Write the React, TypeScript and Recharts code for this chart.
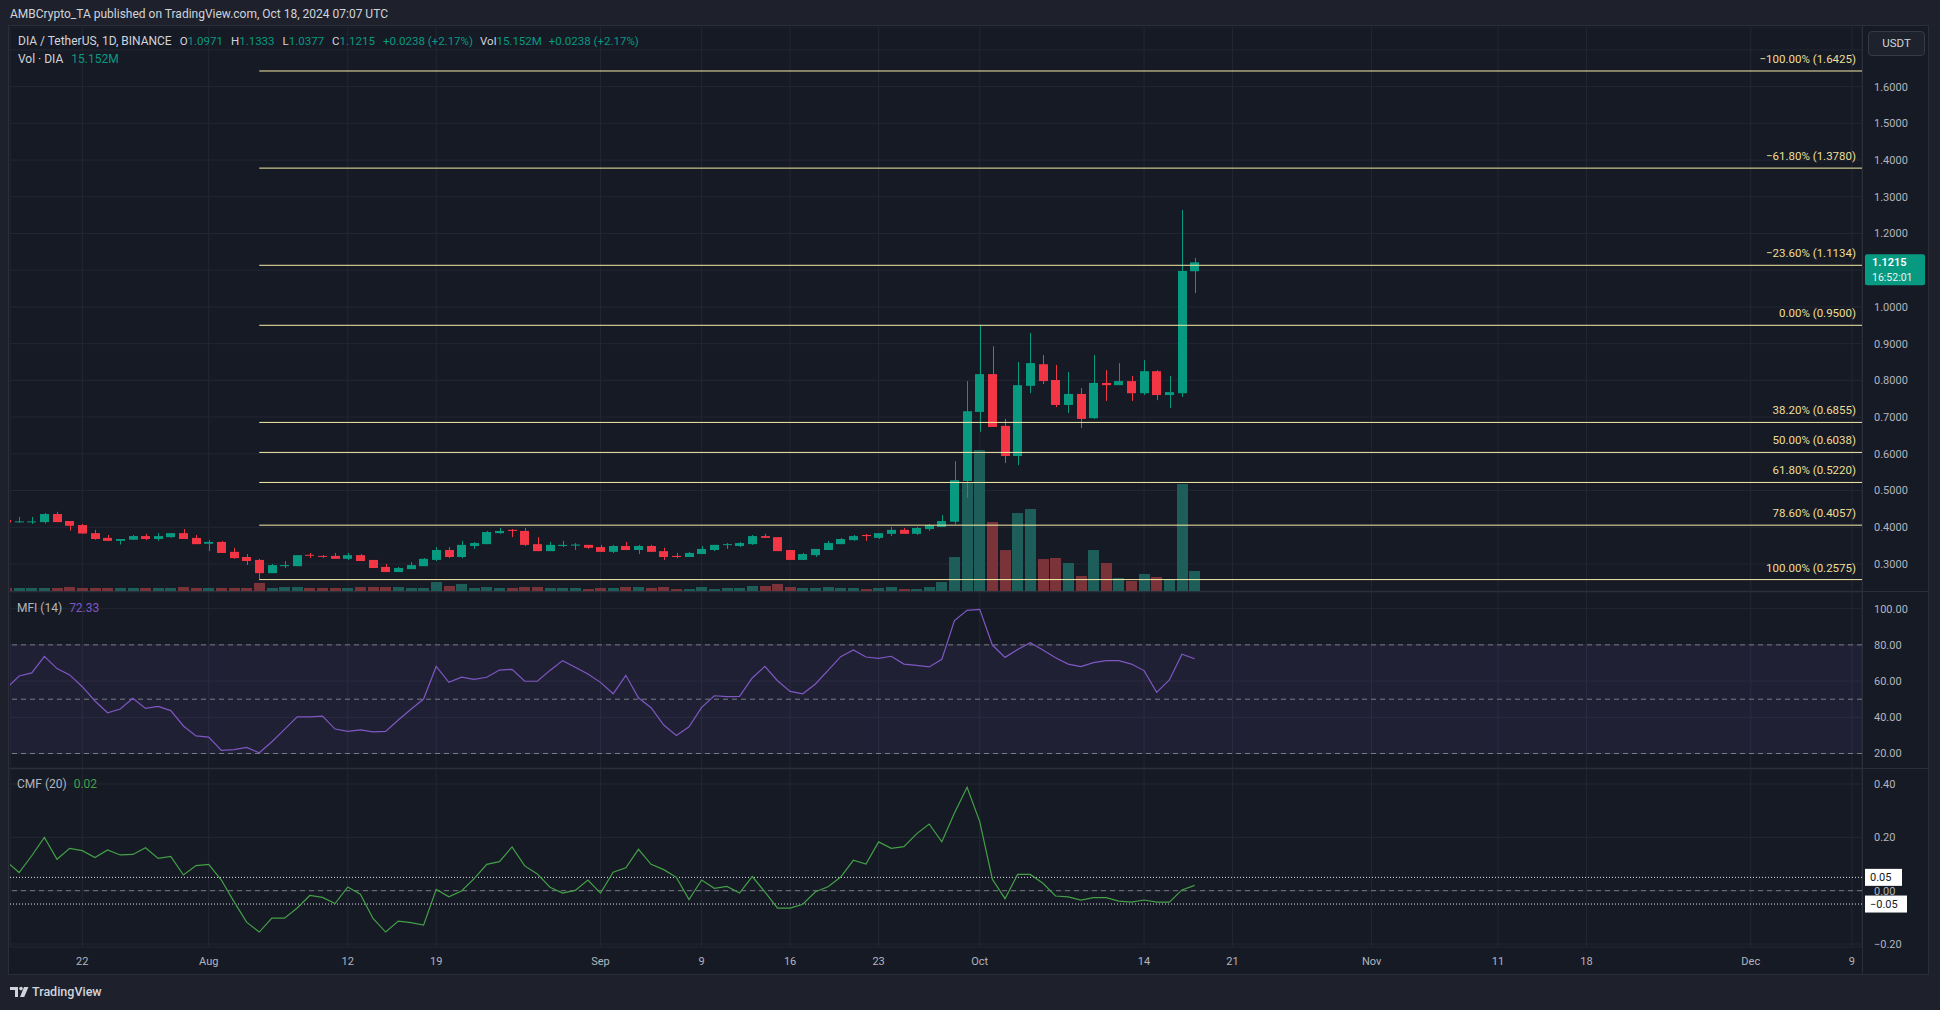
import React from "react";
import {
  Bar,
  CartesianGrid,
  ComposedChart,
  Line,
  ReferenceArea,
  ReferenceLine,
  XAxis,
  YAxis,
} from "recharts";

// day 0 = Jul 22 2024; first visible candle is Jul 16
const FIRST_DAY = -6;

const open = [
  0.42, 0.415, 0.415, 0.414, 0.436, 0.417, 0.406, 0.384, 0.371, 0.363, 0.366, 0.376, 0.368, 0.373, 0.384, 0.371,
  0.355, 0.36, 0.333, 0.319, 0.311, 0.275, 0.294, 0.294, 0.325, 0.322, 0.322, 0.314, 0.324, 0.311, 0.292, 0.278,
  0.286, 0.294, 0.311, 0.338, 0.319, 0.349, 0.354, 0.384, 0.393, 0.39, 0.354, 0.335, 0.349, 0.35, 0.352, 0.346,
  0.333, 0.349, 0.338, 0.349, 0.335, 0.322, 0.319, 0.327, 0.338, 0.352, 0.349, 0.354, 0.376, 0.373, 0.338, 0.311,
  0.324, 0.338, 0.354, 0.365, 0.379, 0.371, 0.382, 0.393, 0.382, 0.395, 0.401, 0.415, 0.526, 0.714, 0.817, 0.676,
  0.594, 0.785, 0.844, 0.801, 0.733, 0.763, 0.697, 0.793, 0.787, 0.798, 0.765, 0.825, 0.76, 0.765, 1.0971,
];
const high = [
  0.421, 0.428, 0.428, 0.439, 0.442, 0.417, 0.409, 0.393, 0.379, 0.368, 0.379, 0.382, 0.384, 0.384, 0.395, 0.379,
  0.365, 0.363, 0.344, 0.327, 0.314, 0.3, 0.308, 0.324, 0.33, 0.324, 0.33, 0.33, 0.327, 0.311, 0.3, 0.292,
  0.305, 0.316, 0.346, 0.346, 0.363, 0.36, 0.39, 0.398, 0.395, 0.398, 0.373, 0.36, 0.363, 0.357, 0.352, 0.352,
  0.352, 0.36, 0.352, 0.352, 0.344, 0.33, 0.333, 0.349, 0.352, 0.357, 0.36, 0.379, 0.382, 0.373, 0.338, 0.33,
  0.341, 0.363, 0.371, 0.379, 0.382, 0.384, 0.401, 0.398, 0.401, 0.409, 0.433, 0.58, 0.798, 0.95, 0.893, 0.695,
  0.85, 0.929, 0.869, 0.842, 0.823, 0.779, 0.869, 0.828, 0.847, 0.812, 0.855, 0.828, 0.812, 1.264, 1.1333,
];
const low = [
  0.411, 0.412, 0.409, 0.41, 0.414, 0.391, 0.383, 0.366, 0.363, 0.353, 0.366, 0.365, 0.363, 0.372, 0.368, 0.354,
  0.335, 0.33, 0.314, 0.297, 0.2575, 0.275, 0.289, 0.294, 0.316, 0.316, 0.314, 0.311, 0.308, 0.289, 0.278, 0.278,
  0.286, 0.294, 0.308, 0.316, 0.316, 0.341, 0.354, 0.382, 0.373, 0.349, 0.335, 0.335, 0.346, 0.338, 0.341, 0.333,
  0.33, 0.338, 0.327, 0.333, 0.311, 0.316, 0.319, 0.327, 0.335, 0.341, 0.346, 0.352, 0.371, 0.335, 0.311, 0.311,
  0.319, 0.338, 0.354, 0.363, 0.363, 0.368, 0.376, 0.382, 0.379, 0.39, 0.401, 0.408, 0.48, 0.66, 0.673, 0.575,
  0.569, 0.765, 0.79, 0.727, 0.711, 0.67, 0.695, 0.744, 0.787, 0.744, 0.76, 0.746, 0.725, 0.755, 1.0377,
];
const close = [
  0.413, 0.416, 0.416, 0.436, 0.414, 0.404, 0.383, 0.368, 0.363, 0.368, 0.376, 0.368, 0.376, 0.384, 0.368, 0.354,
  0.36, 0.33, 0.316, 0.308, 0.275, 0.297, 0.297, 0.324, 0.323, 0.32, 0.314, 0.324, 0.308, 0.289, 0.278, 0.289,
  0.297, 0.314, 0.338, 0.319, 0.352, 0.357, 0.387, 0.39, 0.39, 0.352, 0.335, 0.352, 0.352, 0.353, 0.344, 0.333,
  0.349, 0.338, 0.349, 0.333, 0.319, 0.319, 0.33, 0.341, 0.352, 0.354, 0.357, 0.376, 0.371, 0.335, 0.311, 0.327,
  0.341, 0.357, 0.368, 0.376, 0.376, 0.384, 0.393, 0.382, 0.398, 0.406, 0.417, 0.528, 0.716, 0.817, 0.673, 0.594,
  0.787, 0.847, 0.798, 0.733, 0.763, 0.695, 0.793, 0.787, 0.798, 0.765, 0.825, 0.76, 0.768, 1.098, 1.1215,
];
// volume, millions of DIA
const volume = [
  2.3, 2.3, 2.3, 2.3, 2.3, 3.0, 2.3, 2.3, 2.3, 2.3, 2.3, 2.3, 2.3, 2.3, 3.0, 2.3,
  2.3, 2.3, 2.3, 2.3, 6.1, 2.3, 3.0, 3.0, 2.3, 2.3, 2.3, 2.3, 3.0, 3.0, 3.0, 3.0,
  2.3, 2.3, 6.8, 3.8, 5.3, 2.3, 3.0, 2.3, 2.3, 3.0, 3.0, 2.3, 2.3, 2.3, 1.5, 2.3,
  2.3, 3.0, 3.0, 2.3, 3.0, 1.5, 1.5, 3.0, 1.5, 2.3, 2.3, 3.8, 3.8, 5.3, 3.0, 2.3,
  2.3, 3.0, 2.3, 2.3, 1.5, 2.3, 3.0, 1.5, 1.5, 3.0, 6.8, 25.7, 81.8, 106.7, 52.2, 31.0,
  59.0, 62.1, 24.2, 25.0, 21.2, 11.4, 31.0, 21.2, 9.8, 7.6, 12.9, 10.6, 9.1, 81.0, 15.152,
];
const mfi = [
  56, 62.8, 64.5, 73.7, 66.9, 63.4, 56.9, 49.0, 42.5, 44.6, 50.5, 44.9, 46.0, 43.7, 35.2, 29.7,
  29.1, 21.7, 22.1, 23.4, 20.4, 26.5, 33.3, 40.2, 40.2, 40.7, 33.5, 32.2, 33.0, 32.0, 32.2, 38.5,
  44.4, 50.1, 68.1, 59.3, 62.2, 61.0, 62.1, 66.1, 66.5, 59.9, 59.9, 65.9, 71.3, 67.6, 63.9, 59.3,
  53.0, 63.2, 50.8, 45.3, 35.7, 30.0, 34.8, 45.5, 51.9, 51.4, 51.6, 61.7, 68.1, 60.2, 54.3, 53.0,
  58.4, 65.9, 73.5, 77.2, 73.3, 72.6, 73.7, 69.4, 68.7, 67.8, 72.0, 93.4, 99.1, 99.6, 79.9, 73.1,
  77.5, 81.2, 77.2, 72.9, 69.4, 68.0, 70.2, 71.3, 71.3, 69.4, 65.8, 53.8, 60.6, 74.8, 72.33,
];
const cmf = [
  0.11, 0.068, 0.131, 0.2, 0.118, 0.159, 0.15, 0.124, 0.153, 0.134, 0.136, 0.161, 0.121, 0.129, 0.059, 0.094,
  0.099, 0.04, -0.041, -0.118, -0.155, -0.103, -0.103, -0.065, -0.018, -0.025, -0.048, 0.014, -0.013, -0.104, -0.155, -0.114,
  -0.12, -0.129, 0.005, -0.023, -0.001, 0.045, 0.099, 0.109, 0.164, 0.093, 0.063, 0.013, -0.009, 0.001, 0.04, -0.009,
  0.069, 0.086, 0.155, 0.099, 0.079, 0.05, -0.033, 0.04, 0.009, 0.016, -0.009, 0.053, -0.004, -0.065, -0.065, -0.051,
  -0.004, 0.015, 0.051, 0.114, 0.1, 0.183, 0.159, 0.165, 0.213, 0.25, 0.183, 0.291, 0.388, 0.259, 0.043, -0.03,
  0.061, 0.061, 0.028, -0.02, -0.023, -0.035, -0.026, -0.026, -0.039, -0.043, -0.035, -0.043, -0.043, 0.003, 0.02,
];

const timeTicks = [0, 10, 21, 28, 41, 49, 56, 63, 71, 84, 91, 102, 112, 119, 132, 140];
const timeLabels = ["22", "Aug", "12", "19", "Sep", "9", "16", "23", "Oct", "14", "21", "Nov", "11", "18", "Dec", "9"];

const priceTicks = [0.3, 0.4, 0.5, 0.6, 0.7, 0.8, 0.9, 1.0, 1.1, 1.2, 1.3, 1.4, 1.5, 1.6, 1.7];
const mfiTicks = [20, 40, 60, 80, 100];
const cmfTicks = [-0.2, 0, 0.2, 0.4];

const fibRatios = [-1, -0.618, -0.236, 0, 0.382, 0.5, 0.618, 0.786, 1];
const fibPrices = [1.6425, 1.378, 1.1134, 0.95, 0.6855, 0.6038, 0.522, 0.4057, 0.2575];
const FIB_START_DAY = 14;

const X_MIN = -5.72;
const X_MAX = 140.8;

const GREEN = "#089981";
const RED = "#f23645";
const VOL_UP = "#1d5e5a";
const VOL_DOWN = "#7a3338";
const GRID = "#232733";
const AXIS_TEXT = "#b2b5be";
const CHART_BG = "#161a25";
const OUTER_BG = "#1e212b";
const BORDER = "#2a2e39";
const FIB_LINE = "#f6eba6";
const FIB_TEXT = "#eddf98";
const MFI_COLOR = "#7e57c2";
const CMF_COLOR = "#43a047";
const FONT = "Roboto, 'Noto Sans', sans-serif";

const rows = open.map((o, i) => ({
  day: i + FIRST_DAY,
  open: o,
  high: high[i],
  low: low[i],
  close: close[i],
  range: [low[i], high[i]],
  vol: volume[i],
  mfi: mfi[i],
  cmf: cmf[i],
}));

const last = rows[rows.length - 1];
const minus = (s: string) => s.replace("-", "\u2212");

function Candle(props: any) {
  const { x, y, width, height, payload } = props;
  const top = Math.min(y, y + height);
  const bottom = Math.max(y, y + height);
  const span = payload.high - payload.low;
  const k = span > 0 ? (bottom - top) / span : 0;
  const yO = top + (payload.high - payload.open) * k;
  const yC = top + (payload.high - payload.close) * k;
  const color = payload.close >= payload.open ? GREEN : RED;
  const cx = Math.round(x + width / 2) + 0.5;
  return (
    <g>
      <line x1={cx} x2={cx} y1={top} y2={bottom} stroke={color} strokeWidth={1} />
      <rect x={Math.round(x)} y={Math.min(yO, yC)} width={width} height={Math.max(1, Math.abs(yO - yC))} fill={color} />
    </g>
  );
}

function VolumeBar(props: any) {
  const { x, y, width, height, payload } = props;
  const up = payload.close >= payload.open;
  const top = Math.min(y, y + height);
  return <rect x={Math.round(x)} y={top} width={width} height={Math.abs(height)} fill={up ? VOL_UP : VOL_DOWN} />;
}

function FibLabel(props: any) {
  const { viewBox, text } = props;
  if (!viewBox) return null;
  return (
    <text x={viewBox.x + viewBox.width - 6} y={viewBox.y - 8} textAnchor="end" fill={FIB_TEXT} fontSize={11.5}>
      {text}
    </text>
  );
}

function PriceTag(props: any) {
  const { viewBox } = props;
  if (!viewBox) return null;
  const x = viewBox.x + viewBox.width + 3;
  const y = viewBox.y - 8;
  return (
    <g>
      <rect x={x} y={y} width={60} height={31} rx={2} fill={GREEN} />
      <text x={x + 7} y={y + 12} fill="#ffffff" fontSize={11} fontWeight={600}>
        {last.close.toFixed(4)}
      </text>
      <text x={x + 7} y={y + 27} fill="#e8f5f2" fontSize={10.5}>
        16:52:01
      </text>
    </g>
  );
}

function BoxTag(props: any) {
  const { viewBox, text, w } = props;
  if (!viewBox) return null;
  const x = viewBox.x + viewBox.width + 3;
  const y = viewBox.y - 8.5;
  return (
    <g>
      <rect x={x} y={y} width={w} height={17} fill="#ffffff" />
      <text x={x + 5} y={y + 12.5} fill="#131722" fontSize={11}>
        {text}
      </text>
    </g>
  );
}

const timeLabel = (v: number) => {
  const i = timeTicks.indexOf(v);
  return i >= 0 ? timeLabels[i] : "";
};

// labels hidden by the USDT button and the last price tag
const priceLabel = (v: number) => (v > 1.65 || Math.abs(v - last.close) < 0.05 ? "" : v.toFixed(4));

const yTick = { fill: AXIS_TEXT, fontSize: 11 };

export default function App() {
  const chartProps = {
    width: 1940,
    data: rows,
    margin: { top: 0, right: 0, bottom: 0, left: 10 },
  };

  return (
    <div
      style={{
        position: "absolute",
        left: 0,
        top: 0,
        width: 1940,
        height: 1010,
        background: OUTER_BG,
        fontFamily: FONT,
        overflow: "hidden",
      }}
    >
      <div style={{ position: "absolute", left: 10, top: 7, fontSize: 12, color: "#d1d4dc" }}>
        AMBCrypto_TA published on TradingView.com, Oct 18, 2024 07:07 UTC
      </div>

      <div
        style={{
          position: "absolute",
          left: 9,
          top: 26,
          width: 1919,
          height: 948,
          background: CHART_BG,
          boxShadow: `0 0 0 1px ${BORDER}`,
        }}
      />

      {/* price pane */}
      <div style={{ position: "absolute", left: 0, top: 27 }}>
        <ComposedChart {...chartProps} height={564}>
          <CartesianGrid xAxisId="p" yAxisId="p" stroke={GRID} />
          <XAxis xAxisId="p" dataKey="day" type="number" domain={[X_MIN, X_MAX]} ticks={timeTicks} hide allowDataOverflow />
          <XAxis xAxisId="v" dataKey="day" type="number" domain={[X_MIN, X_MAX]} hide allowDataOverflow />
          <YAxis
            yAxisId="p"
            orientation="right"
            width={78}
            domain={[0.2264, 1.7623]}
            ticks={priceTicks}
            tickFormatter={priceLabel}
            axisLine={false}
            tickLine={false}
            tickMargin={6}
            tick={yTick}
            allowDataOverflow
          />
          <YAxis yAxisId="v" hide domain={[0, 427]} />
          <Bar xAxisId="v" yAxisId="v" dataKey="vol" barSize={11} shape={VolumeBar} isAnimationActive={false} />
          <Bar xAxisId="p" yAxisId="p" dataKey="range" barSize={9} shape={Candle} isAnimationActive={false} />
          {fibPrices.map((p, i) => (
            <ReferenceLine
              key={p}
              xAxisId="p"
              yAxisId="p"
              segment={[
                { x: FIB_START_DAY, y: p },
                { x: X_MAX, y: p },
              ]}
              stroke={FIB_LINE}
              strokeWidth={1}
              label={<FibLabel text={minus(`${(fibRatios[i] * 100).toFixed(2)}% (${p.toFixed(4)})`)} />}
            />
          ))}
          <ReferenceLine xAxisId="p" yAxisId="p" y={last.close} stroke="none" strokeOpacity={0} label={<PriceTag />} />
        </ComposedChart>
      </div>

      {/* MFI pane */}
      <div style={{ position: "absolute", left: 0, top: 592 }}>
        <ComposedChart {...chartProps} height={176}>
          <ReferenceArea y1={20} y2={80} fill={MFI_COLOR} fillOpacity={0.1} stroke="none" />
          <CartesianGrid stroke={GRID} />
          <XAxis dataKey="day" type="number" domain={[X_MIN, X_MAX]} ticks={timeTicks} hide allowDataOverflow />
          <YAxis
            orientation="right"
            width={78}
            domain={[12, 109.2]}
            ticks={mfiTicks}
            tickFormatter={(v: number) => v.toFixed(2)}
            axisLine={false}
            tickLine={false}
            tickMargin={6}
            tick={yTick}
            allowDataOverflow
          />
          {[80, 50, 20].map((v) => (
            <ReferenceLine key={v} y={v} stroke="#787b86" strokeDasharray="5 4" />
          ))}
          <Line dataKey="mfi" stroke={MFI_COLOR} strokeWidth={1.2} dot={false} isAnimationActive={false} />
        </ComposedChart>
      </div>

      {/* CMF pane + time axis */}
      <div style={{ position: "absolute", left: 0, top: 769 }}>
        <ComposedChart {...chartProps} height={205}>
          <CartesianGrid stroke={GRID} />
          <XAxis
            dataKey="day"
            type="number"
            domain={[X_MIN, X_MAX]}
            ticks={timeTicks}
            interval={0}
            tickFormatter={timeLabel}
            height={27}
            axisLine={false}
            tickLine={false}
            tickMargin={4}
            tick={{ fill: AXIS_TEXT, fontSize: 11 }}
            allowDataOverflow
          />
          <YAxis
            orientation="right"
            width={78}
            domain={[-0.2111, 0.4563]}
            ticks={cmfTicks}
            tickFormatter={(v: number) => minus(v.toFixed(2))}
            axisLine={false}
            tickLine={false}
            tickMargin={6}
            tick={yTick}
            allowDataOverflow
          />
          <ReferenceLine y={0} stroke="#787b86" strokeDasharray="5 4" />
          <ReferenceLine y={0.05} stroke="#e0e3eb" strokeDasharray="1 2" label={<BoxTag text="0.05" w={37} />} />
          <ReferenceLine y={-0.05} stroke="#e0e3eb" strokeDasharray="1 2" label={<BoxTag text={"\u22120.05"} w={42} />} />
          <Line dataKey="cmf" stroke={CMF_COLOR} strokeWidth={1.2} dot={false} isAnimationActive={false} />
        </ComposedChart>
      </div>

      {/* separators */}
      <div style={{ position: "absolute", left: 9, top: 591, width: 1919, height: 1, background: BORDER }} />
      <div style={{ position: "absolute", left: 9, top: 768, width: 1919, height: 1, background: BORDER }} />
      <div style={{ position: "absolute", left: 1862, top: 26, width: 1, height: 948, background: BORDER }} />

      {/* legends */}
      <div style={{ position: "absolute", left: 18, top: 34, fontSize: 12, color: "#d1d4dc", whiteSpace: "pre" }}>
        <span>DIA / TetherUS, 1D, BINANCE</span>
        <span style={{ fontSize: 11.5 }}>
          <span style={{ marginLeft: 8 }}>O</span>
          <span style={{ color: GREEN }}>{last.open.toFixed(4)}</span>
          <span style={{ marginLeft: 8 }}>H</span>
          <span style={{ color: GREEN }}>{last.high.toFixed(4)}</span>
          <span style={{ marginLeft: 8 }}>L</span>
          <span style={{ color: GREEN }}>{last.low.toFixed(4)}</span>
          <span style={{ marginLeft: 8 }}>C</span>
          <span style={{ color: GREEN }}>{last.close.toFixed(4)}</span>
          <span style={{ color: GREEN, marginLeft: 8 }}>+0.0238 (+2.17%)</span>
          <span style={{ marginLeft: 7 }}>Vol</span>
          <span style={{ color: GREEN }}>{last.vol.toFixed(3)}M</span>
          <span style={{ color: GREEN, marginLeft: 7 }}>+0.0238 (+2.17%)</span>
        </span>
      </div>
      <div style={{ position: "absolute", left: 18, top: 52, fontSize: 12, color: "#d1d4dc", whiteSpace: "pre" }}>
        <span>Vol · DIA</span>
        <span style={{ color: GREEN, marginLeft: 8 }}>{last.vol.toFixed(3)}M</span>
      </div>
      <div style={{ position: "absolute", left: 17, top: 601, fontSize: 12, color: AXIS_TEXT, whiteSpace: "pre" }}>
        <span>MFI (14)</span>
        <span style={{ color: MFI_COLOR, marginLeft: 7 }}>{last.mfi.toFixed(2)}</span>
      </div>
      <div style={{ position: "absolute", left: 17, top: 777, fontSize: 12, color: AXIS_TEXT, whiteSpace: "pre" }}>
        <span>CMF (20)</span>
        <span style={{ color: CMF_COLOR, marginLeft: 7 }}>{last.cmf.toFixed(2)}</span>
      </div>

      {/* currency button */}
      <div
        style={{
          position: "absolute",
          left: 1868,
          top: 31,
          width: 57,
          height: 25,
          border: "1px solid #363a45",
          borderRadius: 4,
          background: "#1e222d",
          color: "#d1d4dc",
          fontSize: 11.5,
          lineHeight: "23px",
          textAlign: "center",
          boxSizing: "border-box",
        }}
      >
        USDT
      </div>

      {/* footer logo */}
      <div style={{ position: "absolute", left: 10, top: 984, display: "flex", alignItems: "center", color: "#d1d4dc" }}>
        <svg width={20} height={12} viewBox="0 0 20 12">
          <path d="M0 1h8v10H5V4H0z" fill="#d1d4dc" />
          <circle cx={11} cy={2.6} r={1.8} fill="#d1d4dc" />
          <path d="M14 1h4.5l-4.3 10H10z" fill="#d1d4dc" />
        </svg>
        <span style={{ fontSize: 12.5, fontWeight: 500, marginLeft: 2 }}>TradingView</span>
      </div>
    </div>
  );
}
